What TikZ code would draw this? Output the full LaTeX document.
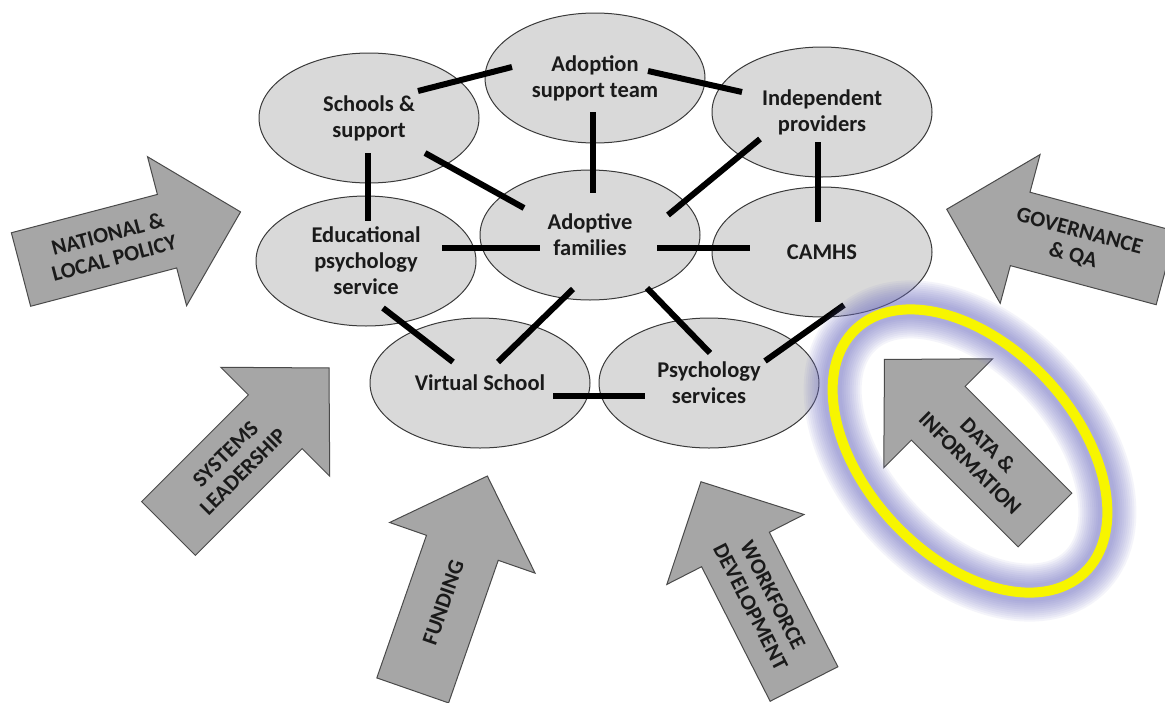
\documentclass[tikz,border=0pt]{standalone}
\usepackage{fontspec}
\setmainfont{Carlito}
\usetikzlibrary{shapes.geometric,calc}
\definecolor{ellfill}{HTML}{D9D9D9}
\definecolor{ellline}{HTML}{3A3A3A}
\definecolor{arrfill}{HTML}{A6A6A6}
\definecolor{arrline}{HTML}{4A4A4A}
\definecolor{txt}{HTML}{1A1A1A}
\definecolor{hilite}{HTML}{F7F500}
\definecolor{glow}{HTML}{7070C4}
\tikzset{
  agency/.style={ellipse, draw=ellline, line width=1pt, fill=ellfill, minimum width=220, minimum height=130, inner sep=0pt, align=center, text=txt, font=\bfseries\fontsize{22.5}{26}\selectfont},
  link/.style={line width=6pt, black},
  arrowbox/.style={draw=arrline, line width=1pt, fill=arrfill},
  arrowtext/.style={align=center, text=txt, font=\bfseries\fontsize{22}{25}\selectfont, inner sep=0pt}
}
\newcommand\blockarr[5]{%
  \begin{scope}[shift={#2}, rotate=#3]
    \draw[arrowbox] (0,-38) -- (151,-38) -- (151,-77) -- (227,0) -- (151,77) -- (151,38) -- (0,38) -- cycle;
    \node[arrowtext, rotate=#4] (#1) at (93,0) {#5};
  \end{scope}}
\begin{document}
\begin{tikzpicture}[x=1pt, y=-1pt]
\clip (0,0) rectangle (1165,702);
\fill[white] (0,0) rectangle (1165,702);

% block arrows
\blockarr{pol}{(21,269.5)}{14.7}{14.7}{NATIONAL \&\\LOCAL POLICY}
\blockarr{gov}{(1166,268)}{165}{-15}{GOVERNANCE\\\& QA}
\blockarr{sys}{(168.5,528.5)}{45}{45}{SYSTEMS\\LEADERSHIP}
\blockarr{fun}{(412.7,690.4)}{70.8}{70.8}{FUNDING}
\blockarr{wfd}{(804,684)}{117}{-63}{WORKFORCE\\DEVELOPMENT}
\blockarr{dat}{(1045,520)}{135}{-45}{DATA \&\\INFORMATION}

% agencies
\node[agency] (sch) at (369,118) {Schools \&\\support};
\node[agency] (ado) at (595,78) {Adoption\\support team};
\node[agency] (ind) at (822,112) {Independent\\providers};
\node[agency] (edu) at (366,261) {Educational\\psychology\\service};
\node[agency] (fam) at (590,235) {Adoptive\\families};
\node[agency] (cam) at (822,252) {CAMHS};
\node[agency] (vir) at (480,383) {Virtual School};
\node[agency] (psy) at (709,383) {Psychology\\services};

% links
\draw[link] ($(sch)+(49,-27)$) -- ($(ado)+(-83,-11)$);
\draw[link] ($(ado)+(53,-7)$) -- ($(ind)+(-80,-20)$);
\draw[link] ($(ado)+(-2,34)$) -- ($(fam)+(3,-42)$);
\draw[link] ($(sch)+(56,35)$) -- ($(fam)+(-66,-27)$);
\draw[link] ($(sch)+(-1,35)$) -- ($(edu)+(2,-40)$);
\draw[link] ($(edu)+(76,-13)$) -- ($(fam)+(-50,13)$);
\draw[link] ($(fam)+(78,-20)$) -- ($(ind)+(-62,27)$);
\draw[link] ($(fam)+(67,13)$) -- ($(cam)+(-72,-4)$);
\draw[link] ($(ind)+(-4,30)$) -- ($(cam)+(-4,-30)$);
\draw[link] ($(edu)+(17,47)$) -- ($(vir)+(-27,-21)$);
\draw[link] ($(fam)+(-17,54)$) -- ($(vir)+(18,-21)$);
\draw[link] ($(fam)+(57,53)$) -- ($(psy)+(1,-30)$);
\draw[link] ($(vir)+(73,13)$) -- ($(psy)+(-64,13)$);
\draw[link] ($(psy)+(56,-22)$) -- ($(cam)+(22,53)$);

% highlight ring with soft glow
\begin{scope}[shift={(970,451)}, rotate=-47]
  \foreach \w in {58,54,50,46,42,38,34,30,26,22,18}
    \draw[glow, line width=\w pt, opacity=0.07] (0,0) ellipse [x radius=167, y radius=105];
  \draw[hilite, line width=10pt] (0,0) ellipse [x radius=167, y radius=105];
\end{scope}
\end{tikzpicture}
\end{document}
